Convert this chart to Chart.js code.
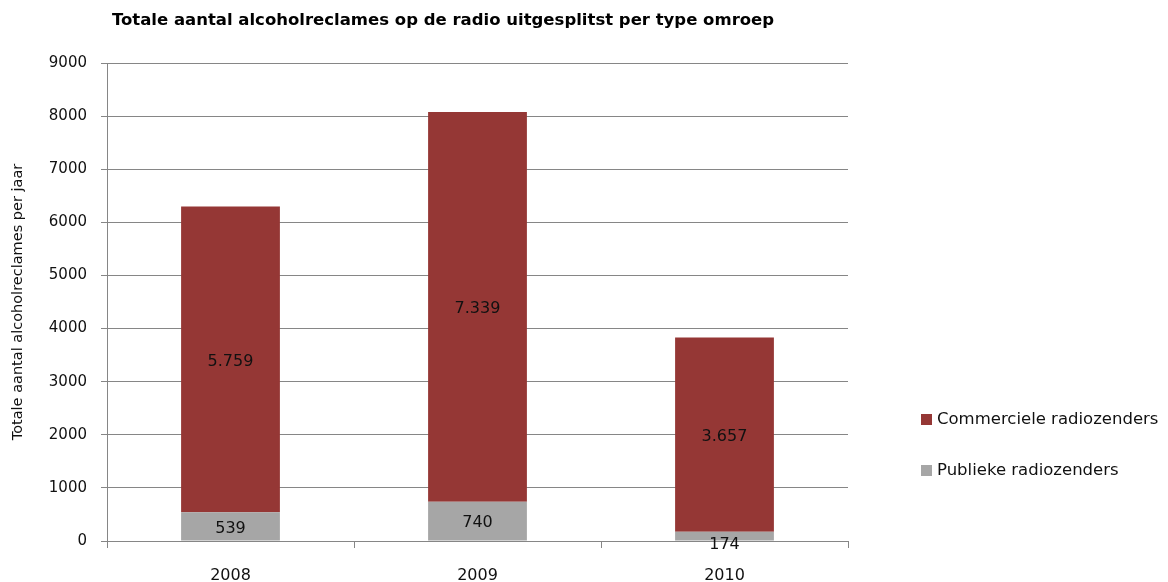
<!DOCTYPE html>
<html>
<head>
<meta charset="utf-8">
<script src="https://cdn.jsdelivr.net/npm/chart.js@4.4.0/dist/chart.umd.min.js"></script>
<style>
html,body{margin:0;padding:0;background:#fff;}
#wrap{width:1168px;height:582px;position:relative;}
</style>
</head>
<body>
<div id="wrap"><canvas id="c" width="1168" height="582"></canvas></div>
<script>
const categories = ['2008', '2009', '2010'];
const publieke = [539, 740, 174];
const commerciele = [5759, 7339, 3657];
const seriesNames = ['Publieke radiozenders', 'Commerciele radiozenders'];
const chartTitle = 'Totale aantal alcoholreclames op de radio uitgesplitst per type omroep';
const yAxisTitle = 'Totale aantal alcoholreclames per jaar';

const FONT = '"DejaVu Sans", sans-serif';
const fmt = v => v.toLocaleString('nl-NL');

const extras = {
  id: 'extras',
  afterDatasetsDraw(chart) {
    const ctx = chart.ctx;
    ctx.save();
    ctx.font = '16px ' + FONT;
    ctx.fillStyle = '#111';
    ctx.textAlign = 'center';
    ctx.textBaseline = 'middle';
    chart.data.datasets.forEach((ds, i) => {
      const meta = chart.getDatasetMeta(i);
      meta.data.forEach((bar, j) => {
        const h = Math.abs(bar.base - bar.y);
        let yc = (bar.y + bar.base) / 2 + 2;
        if (h < 16) yc = bar.base + 4; // small segment: label sits just below, like the original
        ctx.fillText(fmt(ds.data[j]), bar.x, yc);
      });
    });
    ctx.restore();
  },
  afterDraw(chart) {
    const ctx = chart.ctx;
    ctx.save();
    ctx.font = 'bold 16.5px ' + FONT;
    ctx.fillStyle = '#000';
    ctx.textAlign = 'center';
    ctx.textBaseline = 'middle';
    ctx.fillText(chartTitle, 443, 21);
    ctx.font = '16.5px ' + FONT;
    ctx.textAlign = 'left';
    const ys = [471, 420];
    chart.data.datasets.forEach((ds, i) => {
      const y = ys[i];
      ctx.fillStyle = ds.backgroundColor;
      ctx.fillRect(921, y - 6, 11, 11);
      ctx.fillStyle = '#111';
      ctx.fillText(ds.label, 937, y);
    });
    ctx.restore();
  }
};

new Chart(document.getElementById('c'), {
  type: 'bar',
  data: {
    labels: categories,
    datasets: [
      { label: seriesNames[0], data: publieke, backgroundColor: '#a6a6a6', stack: 's' },
      { label: seriesNames[1], data: commerciele, backgroundColor: '#953735', stack: 's' }
    ]
  },
  options: {
    responsive: false,
    animation: false,
    layout: { padding: { left: 0, right: 320, top: 63, bottom: 0 } },
    plugins: { legend: { display: false }, title: { display: false }, tooltip: { enabled: false } },
    datasets: { bar: { categoryPercentage: 1, barPercentage: 0.4 } },
    scales: {
      x: {
        stacked: true,
        grid: { display: true, drawOnChartArea: false, drawTicks: true, tickLength: 7, offset: true, color: '#868686' },
        border: { display: true, color: '#868686' },
        ticks: { font: { family: 'DejaVu Sans', size: 16 }, color: '#111', padding: 18 },
        afterFit(s) { s.height = 41; }
      },
      y: {
        stacked: true,
        min: 0, max: 9000,
        ticks: { stepSize: 1000, font: { family: 'DejaVu Sans', size: 15 }, color: '#111', padding: 14,
                 callback: v => String(v) },
        grid: { color: '#868686', tickLength: 6 },
        border: { display: true, color: '#868686' },
        title: { display: true, text: yAxisTitle, font: { family: 'DejaVu Sans', size: 14.5 }, color: '#111', padding: { top: 10, bottom: 0 } },
        afterFit(s) { s.width = 107; }
      }
    }
  },
  plugins: [extras]
});
</script>
</body>
</html>
